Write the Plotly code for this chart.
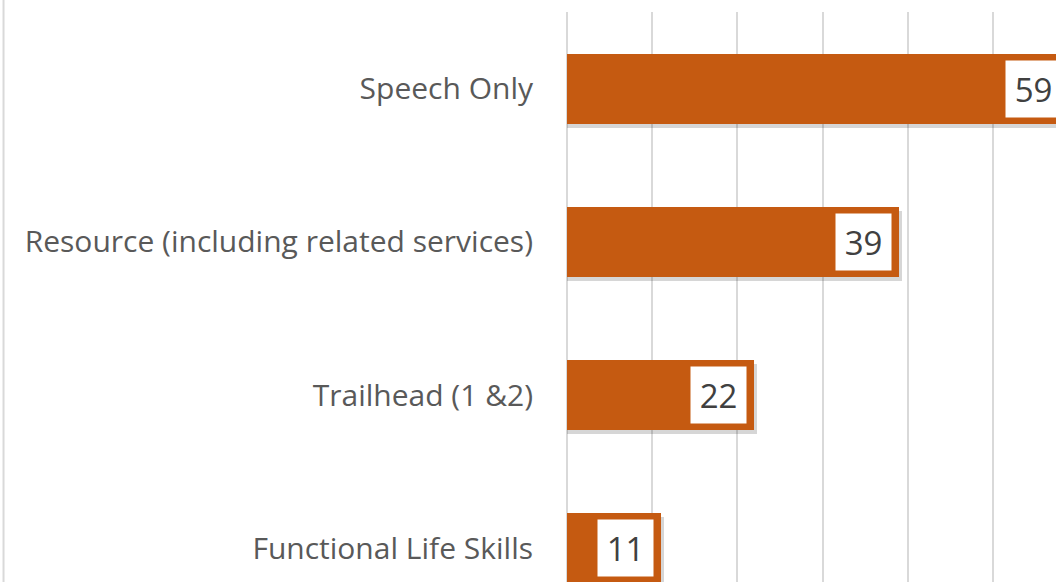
import plotly.graph_objects as go

# Data
categories = ["Speech Only", "Resource (including related services)", "Trailhead (1 &2)", "Functional Life Skills"]
counts = [59, 39, 22, 11]

barColor = "#C55A11"
textColor = "#595959"
gridColor = "#D9D9D9"
barWidth = 0.46

fig = go.Figure()

# Soft drop shadow behind the bars
fig.add_trace(go.Bar(x=[c + 0.35 for c in counts], y=categories, orientation="h",
                     width=barWidth, offset=-barWidth / 2 + 0.025,
                     marker=dict(color="rgba(0,0,0,0.16)", line_width=0),
                     hoverinfo="skip", showlegend=False))

# Main bars
fig.add_trace(go.Bar(x=counts, y=categories, orientation="h",
                     width=barWidth, offset=-barWidth / 2,
                     marker=dict(color=barColor, line_width=0),
                     showlegend=False))

# Value labels in white boxes at the end of each bar
for cat, val in zip(categories, counts):
    fig.add_annotation(x=val, y=cat, xref="x", yref="y", text=str(val),
                       showarrow=False, xanchor="right", xshift=-7,
                       bgcolor="white", borderpad=6, width=43, height=44,
                       font=dict(family="Open Sans", size=33, color="#404040"))

# Thin chart border on the far left
fig.add_shape(type="line", xref="paper", yref="paper", x0=-1.1027, x1=-1.1027, y0=0, y1=1.03,
              line=dict(color=gridColor, width=2))

fig.update_xaxes(range=[0, 60], dtick=10, showgrid=True, gridcolor=gridColor, gridwidth=1.5,
                 showticklabels=False, zeroline=True, zerolinecolor=gridColor, zerolinewidth=1.5,
                 showline=False)
fig.update_yaxes(autorange=False, range=[3.222, -0.503], showgrid=False, showline=False,
                 ticks="", ticklabelstandoff=33,
                 tickfont=dict(family="Open Sans", size=30, color=textColor))

fig.update_layout(width=1078, height=582, margin=dict(l=567, r=0, t=12, b=0),
                  plot_bgcolor="white", paper_bgcolor="white", bargap=0, barmode="overlay")

fig.write_html("out.html", config={"displayModeBar": False},
               post_script="document.body.style.margin='0px'; document.body.style.overflow='hidden';")
